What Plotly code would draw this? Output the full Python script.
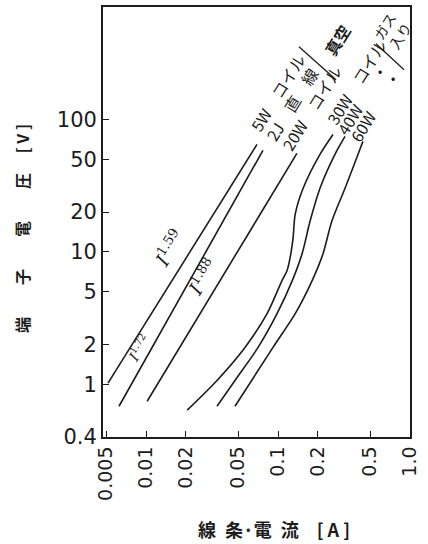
import plotly.graph_objects as go
import math

# ---- data ----
x_ticks = [0.005, 0.01, 0.02, 0.05, 0.1, 0.2, 0.5, 1.0]
x_tick_labels = ["0.005", "0.01", "0.02", "0.05", "0.1", "0.2", "0.5", "1.0"]
y_ticks = [0.4, 1, 2, 5, 10, 20, 50, 100]
y_tick_labels = ["0.4", "1", "2", "5", "10", "20", "50", "100"]

coil5w_I = [0.00515, 0.0693]
coil5w_V = [1.02, 64.9]
straight2j_I = [0.00624, 0.0769]
straight2j_V = [0.683, 58.5]
coil20w_I = [0.0102, 0.139]
coil20w_V = [0.745, 55.5]
gas30w_I = [0.0205, 0.0345, 0.0562, 0.0826, 0.107, 0.117, 0.125, 0.130, 0.135, 0.155, 0.208, 0.261]
gas30w_V = [0.638, 1.07, 1.90, 3.42, 6.05, 7.2, 9.66, 12.7, 19.3, 30.3, 54.6, 77.1]
gas40w_I = [0.0345, 0.0472, 0.0706, 0.0983, 0.128, 0.152, 0.175, 0.208, 0.270, 0.322]
gas40w_V = [0.683, 1.07, 1.90, 3.42, 6.05, 9.66, 17.1, 30.3, 54.6, 74.5]
gas60w_I = [0.0472, 0.0916, 0.135, 0.181, 0.219, 0.256, 0.322, 0.404, 0.440]
gas60w_V = [0.683, 1.90, 3.42, 6.05, 9.66, 17.1, 30.3, 54.6, 68.4]

series = [
    (coil5w_I, coil5w_V, "linear"),
    (straight2j_I, straight2j_V, "linear"),
    (coil20w_I, coil20w_V, "linear"),
    (gas30w_I, gas30w_V, "spline"),
    (gas40w_I, gas40w_V, "spline"),
    (gas60w_I, gas60w_V, "spline"),
]

INK = "#1c1c1c"
FONT = "DejaVu Sans"
SERIF = "DejaVu Serif"
JP = "Noto Sans CJK JP"

W, H = 428, 544
L, R, T, B = 103, 410, 5, 437


def pp(px, py):
    return (px - L) / (R - L), (B - py) / (B - T)


fig = go.Figure()
for xs, ys, shp in series:
    fig.add_trace(go.Scatter(x=xs, y=ys, mode="lines",
                             line=dict(color=INK, width=1.6, shape=shp, smoothing=0.8),
                             showlegend=False, hoverinfo="skip"))

ann = []


def add_text(px, py, text, size=15, angle=-58, family=JP):
    x, y = pp(px, py)
    ann.append(dict(x=x, y=y, xref="paper", yref="paper", text=text, showarrow=False,
                    textangle=angle, xanchor="center", yanchor="middle",
                    font=dict(family=family, size=size, color=INK)))


# curve labels
add_text(277, 91, "5W　コイル", size=16)
add_text(291, 103, "2J　直　線", size=16)
add_text(311, 106, "20W　コイル", size=16)
add_text(337, 38, "<b>真空</b>", size=16)
add_text(356, 80, "30W　コイル", size=16)
add_text(362, 97, "40W　　・", size=16)
add_text(375, 104, "60W　　・", size=16)
add_text(392, 29, "ガス<br>入り", size=14)

# exponent labels
add_text(169, 247, "<i>I</i><sup>1.59</sup>", size=19, family=SERIF)
add_text(202, 276, "<i>I</i><sup>1.88</sup>", size=19, family=SERIF)
add_text(139, 348, "<i>I</i><sup>1.72</sup>", size=14, family=SERIF)

# axis titles
add_text(22, 228, "<b>端　　子　　電　　圧　 [ V ]</b>", size=16, angle=-90)
add_text(274, 529, "<b>線\u2002条·電\u2002流\u3000[ A ]</b>", size=18, angle=0)

shapes = []


def seg(p0, p1):
    x0, y0 = pp(*p0)
    x1, y1 = pp(*p1)
    shapes.append(dict(type="line", xref="paper", yref="paper", x0=x0, y0=y0, x1=x1, y1=y1,
                       line=dict(color=INK, width=1.3)))


# brackets grouping the vacuum / gas-filled labels
seg((299, 45), (336, 78))
seg((376, 42), (404, 68))

fig.update_layout(
    width=W, height=H,
    margin=dict(l=L, r=W - R, t=T, b=H - B),
    paper_bgcolor="white", plot_bgcolor="white",
    annotations=ann, shapes=shapes,
    xaxis=dict(type="log", range=[math.log10(0.005) - 3.3 / 132, 0.0],
               tickvals=x_ticks, ticktext=x_tick_labels, tickangle=-90,
               ticks="inside", ticklen=6, tickwidth=1.3, tickcolor=INK,
               showline=True, linecolor=INK, linewidth=1.8, mirror=True,
               showgrid=False, zeroline=False,
               tickfont=dict(family=FONT, size=19, color=INK)),
    yaxis=dict(type="log", range=[math.log10(0.4), 2.85],
               tickvals=y_ticks, ticktext=y_tick_labels,
               ticks="inside", ticklen=6, tickwidth=1.3, tickcolor=INK,
               showline=True, linecolor=INK, linewidth=1.8, mirror=True,
               showgrid=False, zeroline=False,
               tickfont=dict(family=FONT, size=21, color=INK)),
)

fig.write_html("out.html", config={"displayModeBar": False},
               post_script="document.body.style.margin='0';document.body.style.overflow='hidden';")
